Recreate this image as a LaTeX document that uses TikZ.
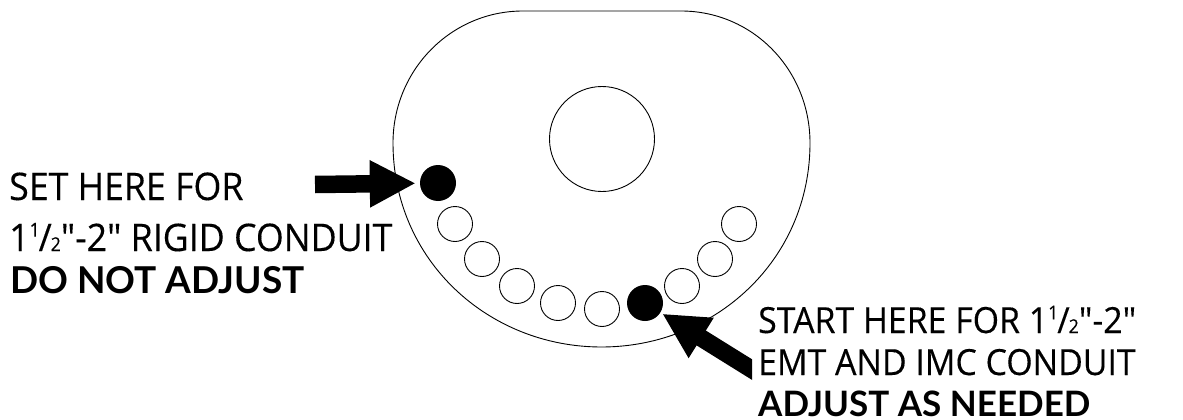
\documentclass[tikz,border=0pt]{standalone}
\usepackage{fontspec}
\setmainfont{Lato}
\newfontfamily\labelfont[FakeStretch=0.94, FakeBold=0.25]{Open Sans}
\usetikzlibrary{arrows.meta}
\tikzset{
    hole/.style={draw, circle, inner sep=0pt, minimum size=35pt, line width=0.9pt},
    dot/.style={fill=black, circle, inner sep=0pt, minimum size=36pt},
    bigarrow/.style={line width=17.5pt, -{Triangle[length=46pt, width=44pt]}},
    label/.style={anchor=base west, inner sep=0pt, font=\labelfont\fontsize{36}{36}\selectfont},
    biglabel/.style={label, font=\labelfont\fontsize{38}{38}\selectfont},
    strong/.style={anchor=base west, inner sep=0pt, font=\bfseries\fontsize{35}{35}\selectfont},
    bigstrong/.style={strong, font=\bfseries\fontsize{37}{37}\selectfont},
}
\newcommand{\sizefrac}{1{\raisebox{0.38em}{\fontsize{19}{19}\selectfont 1}}\kern-0.03em/\kern-0.03em{\fontsize{19}{19}\selectfont 2}}
\begin{document}
\begin{tikzpicture}[x=1pt, y=-1pt]
        \useasboundingbox (0,0) rectangle (1183,420);

        % Plate
        \draw [line width=0.9pt] (523,11) -- (681,11)
            .. controls (753,11) and (810,70) .. (810,143)
            .. controls (810,260) and (715,347) .. (601.5,347)
            .. controls (488,347) and (393,260) .. (393,143)
            .. controls (393,70) and (451,11) .. (523,11) -- cycle;
        \node (shaft) [draw, circle, inner sep=0pt, minimum size=105pt, line width=0.9pt] at (602,139) {};

        % Nodes
        \node (set_dot) [dot] at (438,183) {};
        \node (hole_a) [hole] at (455,224) {};
        \node (hole_b) [hole] at (482,259) {};
        \node (hole_c) [hole] at (517,286) {};
        \node (hole_d) [hole] at (558,303) {};
        \node (hole_e) [hole] at (602,309) {};
        \node (start_dot) [dot] at (645,303) {};
        \node (hole_f) [hole] at (682,286) {};
        \node (hole_g) [hole] at (715,259) {};
        \node (hole_h) [hole] at (739,224) {};

        % Labels
        \node (set_a) [biglabel] at (9,200) {SET HERE FOR};
        \node (set_b) [biglabel] at (9,251) {\sizefrac"-2" RIGID CONDUIT};
        \node (set_c) [bigstrong] at (10,293) {DO NOT ADJUST};
        \node (start_a) [label] at (758,333) {START HERE FOR \sizefrac"-2"};
        \node (start_b) [label] at (758,375) {EMT AND IMC CONDUIT};
        \node (start_c) [strong] at (758,416) {ADJUST AS NEEDED};

        % Arrows
        \coordinate (set_tail) at (315,184.5);
        \coordinate (start_tail) at (780,387);
        \draw [bigarrow, shorten >=4pt] (set_tail) -- (set_dot);
        \begin{scope}
            \clip (0,0) rectangle (752,420);
            \draw [bigarrow, shorten >=2pt] (start_tail) -- (start_dot);
        \end{scope}

    \end{tikzpicture}
\end{document}
